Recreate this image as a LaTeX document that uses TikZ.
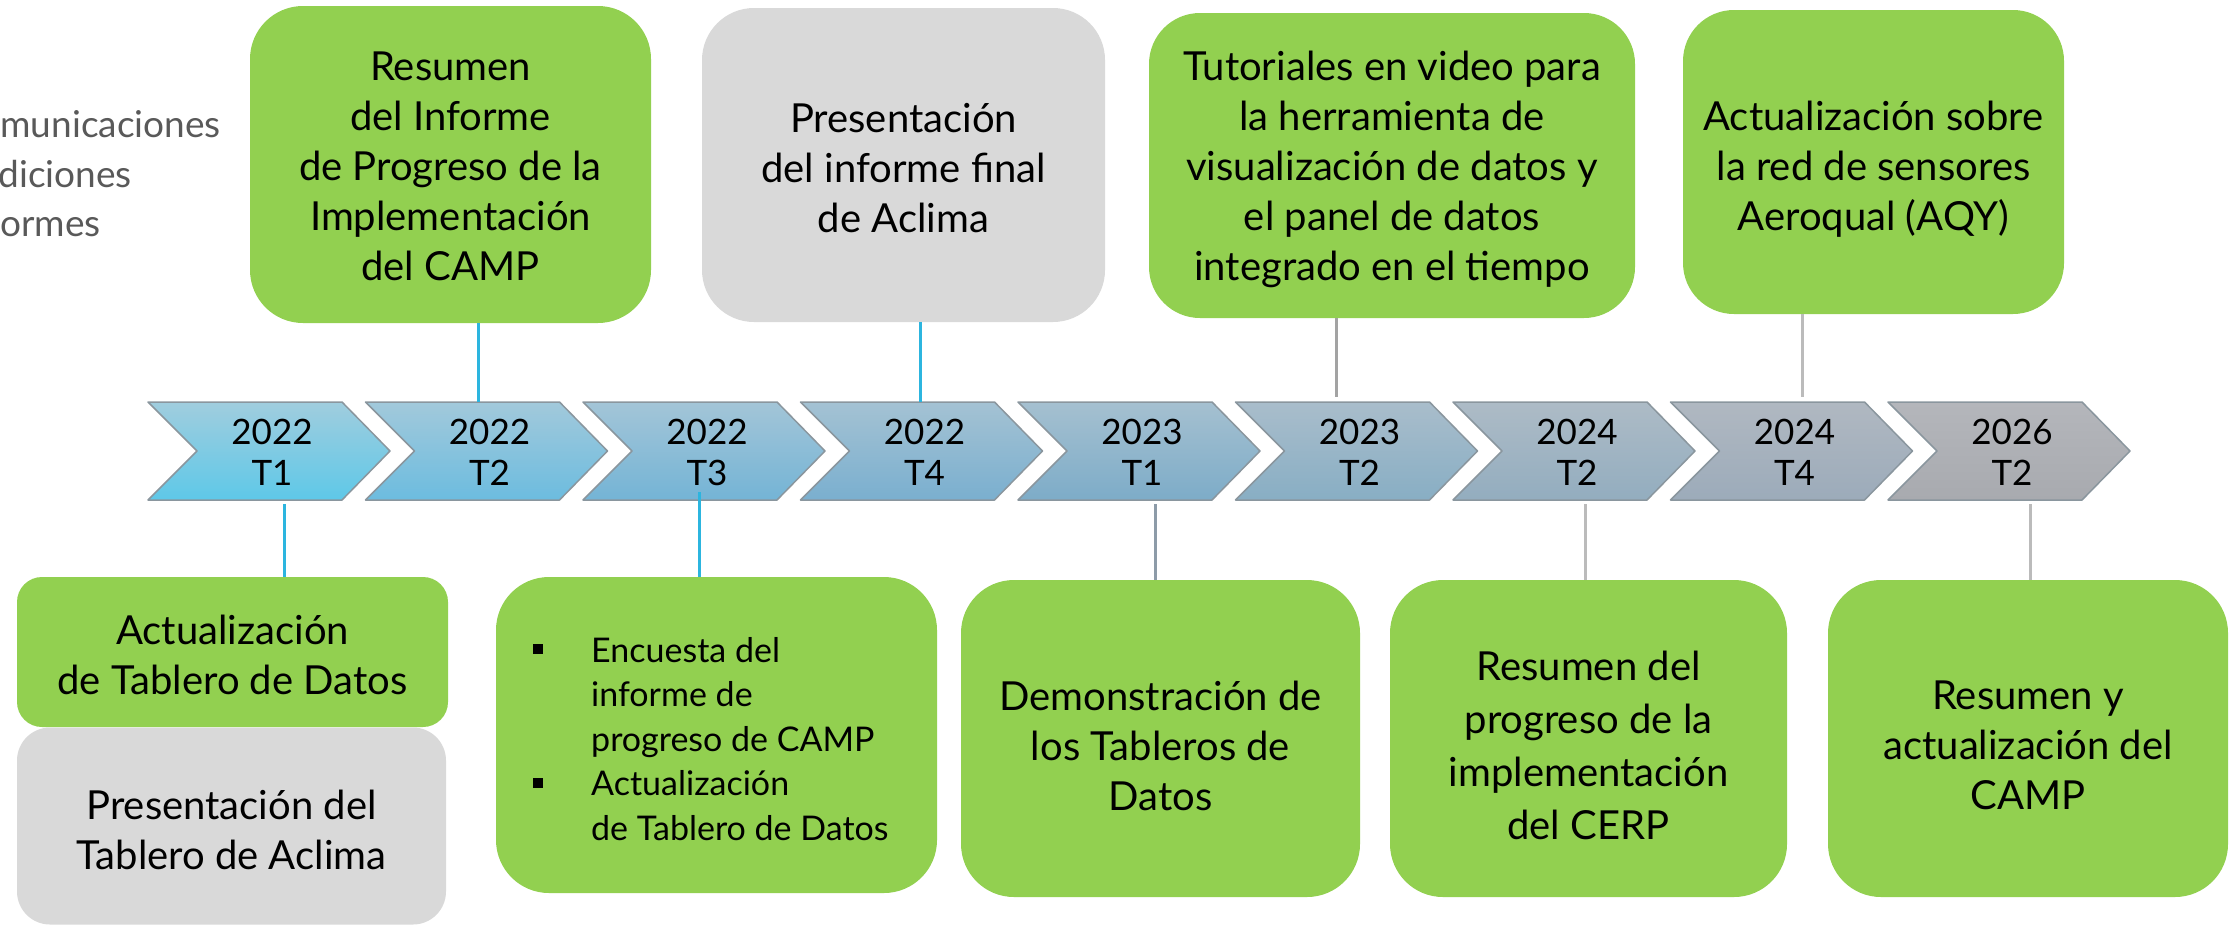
\documentclass[tikz,border=0pt]{standalone}
\usepackage{fontspec}
\setmainfont{Lato}
\definecolor{boxgreen}{HTML}{92D050}
\definecolor{boxgray}{HTML}{D9D9D9}
\definecolor{leftgray}{HTML}{595959}
\definecolor{lnA}{HTML}{2CB5DF}
\definecolor{lnB}{HTML}{8D9BA8}
\definecolor{lnC}{HTML}{A3A3A3}
\definecolor{lnD}{HTML}{BBBBBB}
\definecolor{chedge}{HTML}{8A969E}
\definecolor{ta0}{HTML}{A0CDDE}\definecolor{tb0}{HTML}{5EC8E8}
\definecolor{ta1}{HTML}{A2C9DB}\definecolor{tb1}{HTML}{6CBCDF}
\definecolor{ta2}{HTML}{A3C5D7}\definecolor{tb2}{HTML}{74B4D6}
\definecolor{ta3}{HTML}{A4C2D3}\definecolor{tb3}{HTML}{7AAFCF}
\definecolor{ta4}{HTML}{A5C0D0}\definecolor{tb4}{HTML}{7DACC8}
\definecolor{ta5}{HTML}{A9BDCB}\definecolor{tb5}{HTML}{88AEC4}
\definecolor{ta6}{HTML}{ADBBC6}\definecolor{tb6}{HTML}{93ADBF}
\definecolor{ta7}{HTML}{B0B8C1}\definecolor{tb7}{HTML}{9CABBA}
\definecolor{ta8}{HTML}{B4B6BB}\definecolor{tb8}{HTML}{A8AAAF}
\newcommand{\chevshape}[3]{%
  \shade[top color=#2, bottom color=#3, draw=chedge, line width=1.5pt, line join=round]
    (#1,402) -- ++(194,0) -- ++(48,49) -- ++(-48,49) -- ++(-194,0) -- ++(49,-49) -- cycle;}
\begin{document}
\begin{tikzpicture}[x=1pt,y=-1pt,
  boxg/.style={fill=boxgreen, rounded corners=#1, inner sep=0pt},
  boxy/.style={fill=boxgray, rounded corners=#1, inner sep=0pt},
  btxt/.style={align=center, inner sep=0pt, text=black, font=\fontsize{40}{50}\selectfont},
  chevlab/.style={align=center, inner sep=0pt, text=black, font=\fontsize{35}{41}\selectfont},
  lefttxt/.style={inner sep=0pt, text=leftgray, font=\fontsize{37}{50}\selectfont},
  bultxt/.style={anchor=west, align=left, inner sep=0pt, text=black, font=\fontsize{34}{44.5}\selectfont},
  bulsq/.style={fill=black, minimum size=10pt, inner sep=0pt},
  conn/.style={draw=#1, line width=3pt}
]
\useasboundingbox (0,0) rectangle (2229,930);
\clip (0,0) rectangle (2229,930);

% left cut-off text
\node[lefttxt, anchor=base east] (lt1) at (221,137) {municaciones};
\node[lefttxt, anchor=base east] (lt2) at (132,187) {diciones};
\node[lefttxt, anchor=base west] (lt3) at (0,236) {ormes};

% chevrons
\chevshape{148}{ta0}{tb0}
\chevshape{365.5}{ta1}{tb1}
\chevshape{583}{ta2}{tb2}
\chevshape{800.5}{ta3}{tb3}
\chevshape{1018}{ta4}{tb4}
\chevshape{1235.5}{ta5}{tb5}
\chevshape{1453}{ta6}{tb6}
\chevshape{1670.5}{ta7}{tb7}
\chevshape{1888}{ta8}{tb8}

\node[chevlab] (c1) at (272,452) {2022\\T1};
\node[chevlab] (c2) at (489.5,452) {2022\\T2};
\node[chevlab] (c3) at (707,452) {2022\\T3};
\node[chevlab] (c4) at (924.5,452) {2022\\T4};
\node[chevlab] (c5) at (1142,452) {2023\\T1};
\node[chevlab] (c6) at (1359.5,452) {2023\\T2};
\node[chevlab] (c7) at (1577,452) {2024\\T2};
\node[chevlab] (c8) at (1794.5,452) {2024\\T4};
\node[chevlab] (c9) at (2012,452) {2026\\T2};

% top boxes
\node[boxg=53pt, minimum width=401pt, minimum height=317pt] (t1) at (450.5,164.5) {};
\node[btxt] (t1t) at ([yshift=-1.5pt]t1.center)
  {Resumen\\del Informe\\de Progreso de la\\Implementación\\del CAMP};
\node[boxy=52pt, minimum width=403pt, minimum height=314pt] (t2) at (903.5,165) {};
\node[btxt] (t2t) at ([yshift=-3pt]t2.center)
  {Presentación\\del informe final\\de Aclima};
\node[boxg=51pt, minimum width=486pt, minimum height=305pt] (t3) at (1392,165.5) {};
\node[btxt] (t3t) at ([yshift=-4pt]t3.center)
  {Tutoriales en video para\\la herramienta de\\visualización de datos y\\el panel de datos\\integrado en el tiempo};
\node[boxg=51pt, minimum width=381pt, minimum height=304pt] (t4) at (1873.5,162) {};
\node[btxt] (t4t) at ([yshift=-7pt]t4.center)
  {Actualización sobre\\la red de sensores\\Aeroqual (AQY)};

% bottom boxes
\node[boxy=33pt, minimum width=429pt, minimum height=197pt] (b1b) at (231.5,826) {};
\node[btxt] (b1bt) at ([yshift=-4pt]b1b.center) {Presentación del\\Tablero de Aclima};
\node[boxg=25pt, minimum width=431pt, minimum height=150pt] (b1) at (232.5,652) {};
\node[btxt] (b1t) at ([yshift=-3pt]b1.center) {Actualización\\de Tablero de Datos};
\node[boxg=53pt, minimum width=441pt, minimum height=316pt] (b2) at (716.5,735) {};
\node[bultxt] (b2t) at (591,739)
  {Encuesta del\\informe de\\progreso de CAMP\\Actualización\\de Tablero de Datos};
\node[bulsq] (bu1) at (538,649) {};
\node[bulsq] (bu2) at (538,783) {};
\node[boxg=53pt, minimum width=399pt, minimum height=317pt] (b3) at (1160.5,738.5) {};
\node[btxt] (b3t) at ([yshift=-7pt]b3.center) {Demonstración de\\los Tableros de\\Datos};
\node[boxg=53pt, minimum width=397pt, minimum height=317pt] (b4) at (1588.5,738.5) {};
\node[btxt, font=\fontsize{40}{53}\selectfont] (b4t) at ([yshift=-7pt]b4.center)
  {Resumen del\\progreso de la\\implementación\\del CERP};
\node[boxg=53pt, minimum width=400pt, minimum height=317pt] (b5) at (2028,738.5) {};
\node[btxt] (b5t) at ([yshift=-7pt]b5.center) {Resumen y\\actualización del\\CAMP};

% connector guide coordinates
\coordinate (ctop) at (0,402);
\coordinate (ctopg) at (0,397);
\coordinate (cbotg) at (0,504);
\coordinate (cin) at (0,492);
\coordinate (x1) at (478,0);
\coordinate (x2) at (920,0);
\coordinate (x3) at (1336,0);
\coordinate (x4) at (1802,0);
\coordinate (y1) at (284,0);
\coordinate (y2) at (699,0);
\coordinate (y3) at (1155,0);
\coordinate (y4) at (1585,0);
\coordinate (y5) at (2030,0);

\draw[conn=lnA] (t1.south -| x1) -- (x1 |- ctop);
\draw[conn=lnA] (t2.south -| x2) -- (x2 |- ctop);
\draw[conn=lnC] (t3.south -| x3) -- (x3 |- ctopg);
\draw[conn=lnD] (t4.south -| x4) -- (x4 |- ctopg);
\draw[conn=lnA] (y1 |- cbotg) -- (b1.north -| y1);
\draw[conn=lnA] (y2 |- cin) -- (b2.north -| y2);
\draw[conn=lnB] (y3 |- cbotg) -- (b3.north -| y3);
\draw[conn=lnD] (y4 |- cbotg) -- (b4.north -| y4);
\draw[conn=lnD] (y5 |- cbotg) -- (b5.north -| y5);
\end{tikzpicture}
\end{document}
